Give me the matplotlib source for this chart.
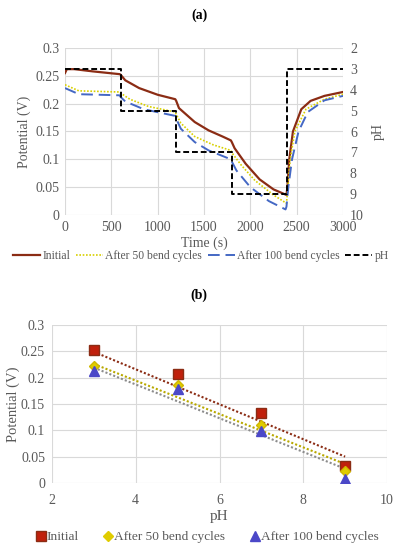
import numpy as np
import matplotlib
matplotlib.use('Agg')
from matplotlib import pyplot as plt
from matplotlib.lines import Line2D

plt.rcParams['font.family'] = ['Liberation Serif', 'DejaVu Serif']

# Panel (a): potential vs time
t_initial = [0, 20, 100, 300, 590, 600, 650, 800, 1000, 1190, 1200, 1230, 1400, 1550, 1700, 1790,
             1800, 1830, 1950, 2100, 2250, 2390, 2400, 2420, 2460, 2550, 2650, 2800, 3000]
v_initial = [0.255, 0.262, 0.262, 0.258, 0.253, 0.252, 0.242, 0.228, 0.216, 0.208, 0.205, 0.192,
             0.167, 0.152, 0.141, 0.134, 0.131, 0.12, 0.092, 0.064, 0.046, 0.036, 0.05, 0.1,
             0.15, 0.19, 0.205, 0.214, 0.221]

t_50 = [0, 150, 590, 600, 700, 900, 1190, 1200, 1250, 1400, 1600, 1790, 1800, 1900, 2050, 2250,
        2390, 2400, 2430, 2480, 2600, 2800, 3000]
v_50 = [0.234, 0.223, 0.221, 0.219, 0.208, 0.195, 0.185, 0.181, 0.165, 0.141, 0.126, 0.116, 0.112,
        0.09, 0.062, 0.036, 0.021, 0.04, 0.1, 0.15, 0.19, 0.208, 0.217]

t_100 = [0, 150, 590, 600, 650, 850, 1190, 1200, 1250, 1400, 1550, 1790, 1800, 1850, 2000, 2200,
         2380, 2390, 2410, 2450, 2520, 2620, 2800, 3000]
v_100 = [0.228, 0.217, 0.215, 0.212, 0.204, 0.19, 0.178, 0.173, 0.155, 0.131, 0.116, 0.1, 0.096,
         0.08, 0.05, 0.025, 0.01, 0.015, 0.05, 0.1, 0.15, 0.185, 0.206, 0.214]

t_ph = [0, 600, 600, 1200, 1200, 1800, 1800, 2400, 2400, 3000]
ph_step = [3, 3, 5, 5, 7, 7, 9, 9, 3, 3]

# Panel (b): potential vs pH
ph_points = [3, 5, 7, 9]
p_initial = [0.253, 0.207, 0.133, 0.032]
p_50 = [0.222, 0.186, 0.111, 0.022]
p_100 = [0.213, 0.178, 0.098, 0.008]

# trendlines as drawn in the picture (value at pH 3 and pH 9)
trend_ph = [3, 9]
trend_initial = [0.249, 0.050]
trend_50 = [0.226, 0.036]
trend_100 = [0.219, 0.027]

c_init = '#8B2C14'
c_50 = '#D8D000'
c_100 = '#4468C4'
grey = '#595959'
grid_c = '#D9D9D9'

fig = plt.figure(figsize=(3.98, 5.5), dpi=100)


def style_axes(ax, fs):
    for s in ax.spines.values():
        s.set_visible(False)
    ax.grid(True, color=grid_c, linewidth=0.8)
    ax.set_axisbelow(True)
    ax.tick_params(length=0, labelsize=fs, colors=grey, pad=4)


# ---- (a)
fig.text(0.5, 1 - 15 / 550, '(a)', ha='center', va='center', fontsize=10, fontweight='bold')
ax1 = fig.add_axes([65 / 398, 1 - 215 / 550, 278 / 398, 167 / 550])
style_axes(ax1, 10)
ax1.plot(t_initial, v_initial, color=c_init, lw=1.6)
ax1.plot(t_50, v_50, color=c_50, lw=1.2, linestyle=(0, (1, 1)))
ax1.plot(t_100, v_100, color=c_100, lw=1.4, linestyle=(0, (6, 3)))
ax1.set_xlim(0, 3000)
ax1.set_ylim(0, 0.3)
ax1.set_xticks(np.arange(0, 3001, 500))
ax1.set_yticks(np.arange(0, 0.301, 0.05))
ax1.set_yticklabels(['0', '0.05', '0.1', '0.15', '0.2', '0.25', '0.3'])
ax1.set_xlabel('Time (s)', fontsize=10, color=grey, labelpad=2)
ax1.set_ylabel('Potential (V)', fontsize=10, color=grey, labelpad=3)

ax2 = ax1.twinx()
for s in ax2.spines.values():
    s.set_visible(False)
ax2.plot(t_ph, ph_step, color='black', lw=1.4, linestyle=(0, (3, 1.5)))
ax2.set_ylim(10, 2)
ax2.set_yticks(range(2, 11))
ax2.tick_params(length=0, labelsize=10, colors=grey, pad=5)
ax2.set_ylabel('pH', fontsize=10, color=grey, labelpad=6)

handles_a = [Line2D([], [], color=c_init, lw=1.6),
             Line2D([], [], color=c_50, lw=1.2, linestyle=(0, (1, 1))),
             Line2D([], [], color=c_100, lw=1.4, linestyle=(0, (6, 3))),
             Line2D([], [], color='black', lw=1.4, linestyle=(0, (3, 1.5)))]
fig.legend(handles_a, ['Initial', 'After 50 bend cycles', 'After 100 bend cycles', 'pH'],
           loc='center', bbox_to_anchor=(0.505, 1 - 256 / 550), ncol=4, frameon=False,
           fontsize=8.4, handlelength=2.3, handletextpad=0.2, columnspacing=0.5,
           labelcolor=grey)

# ---- (b)
fig.text(0.5, 1 - 295 / 550, '(b)', ha='center', va='center', fontsize=10, fontweight='bold')
ax3 = fig.add_axes([52 / 398, 1 - 483 / 550, 335 / 398, 158 / 550])
style_axes(ax3, 10)
ax3.tick_params(axis='y', pad=5)
ax3.tick_params(axis='x', pad=8)

for y, trend, col, edge, mk, tcol, ms in [
        (p_initial, trend_initial, '#C0200C', '#8B2C14', 's', '#8B2C14', 7),
        (p_50, trend_50, '#E0CC00', '#D0B800', 'D', '#B8A800', 5.5),
        (p_100, trend_100, '#4B48C8', '#4B48C8', '^', '#8C8C8C', 6.5)]:
    ax3.plot(trend_ph, trend, color=tcol, lw=1.5, linestyle=(0, (1, 1)), zorder=2)
    ax3.plot(ph_points, y, linestyle='none', marker=mk, color=col, markersize=ms,
             markeredgecolor=edge, zorder=3)

ax3.set_xlim(2, 10)
ax3.set_ylim(0, 0.3)
ax3.set_xticks(range(2, 11, 2))
ax3.set_yticks(np.arange(0, 0.301, 0.05))
ax3.set_yticklabels(['0', '0.05', '0.1', '0.15', '0.2', '0.25', '0.3'])
ax3.set_xlabel('pH', fontsize=11, color=grey, labelpad=2)
ax3.set_ylabel('Potential (V)', fontsize=10.5, color=grey)
ax3.yaxis.set_label_coords(-0.097, 0.5)

handles_b = [Line2D([], [], linestyle='none', marker='s', color='#C0200C',
                    markeredgecolor='#8B2C14', markersize=7),
             Line2D([], [], linestyle='none', marker='D', color='#E0CC00', markersize=5.5),
             Line2D([], [], linestyle='none', marker='^', color='#4B48C8', markersize=6.5)]
fig.legend(handles_b, ['Initial', 'After 50 bend cycles', 'After 100 bend cycles'],
           loc='center', bbox_to_anchor=(0.52, 1 - 537 / 550), ncol=3, frameon=False,
           fontsize=9.6, handlelength=0.8, handletextpad=0.05, columnspacing=1.8,
           labelcolor=grey)

fig.savefig('out.png', dpi=100)
